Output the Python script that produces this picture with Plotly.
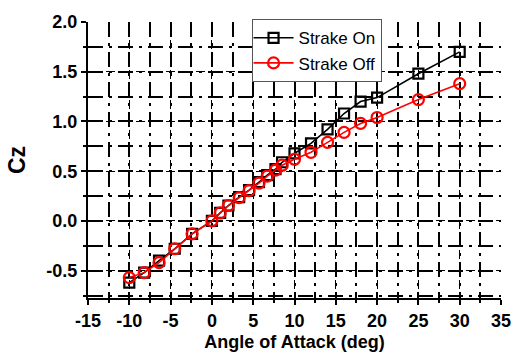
import plotly.graph_objects as go

# Angle of attack (deg)
alpha = [-10, -8.2, -6.4, -4.5, -2.4, 0, 1, 2, 3.3, 4.5, 5.7, 6.7, 7.7, 8.5,
         10, 12, 14, 16, 18, 20, 25, 30]
# Normal-force coefficient with the strake fitted / removed
cz_on = [-0.62, -0.52, -0.40, -0.28, -0.13, 0.0, 0.08, 0.155, 0.24, 0.31, 0.39,
         0.46, 0.52, 0.59, 0.68, 0.78, 0.92, 1.08, 1.20, 1.24, 1.48, 1.70]
cz_off = [-0.57, -0.52, -0.42, -0.28, -0.13, 0.0, 0.08, 0.155, 0.235, 0.305, 0.38,
          0.45, 0.51, 0.56, 0.62, 0.69, 0.79, 0.89, 0.98, 1.04, 1.22, 1.38]

series_names = ["Strake On", "Strake Off"]
series_colors = ["black", "red"]
series_symbols = ["square-open", "circle-open"]
series_sizes = [10, 11]

x_ticks = [-15, -10, -5, 0, 5, 10, 15, 20, 25, 30, 35]
y_ticks = [-0.5, 0.0, 0.5, 1.0, 1.5, 2.0]

fig = go.Figure()
for name, ys, col, sym, sz in zip(series_names, [cz_on, cz_off], series_colors,
                                  series_symbols, series_sizes):
    fig.add_trace(go.Scatter(
        x=alpha, y=ys, name=name, mode="lines+markers",
        line=dict(color=col, width=1.6),
        marker=dict(symbol=sym, size=sz, color=col, line=dict(width=2.2)),
    ))

tick_font = dict(family="Liberation Sans", size=18, color="black", weight="bold")
axis_common = dict(
    showline=True, linecolor="black", linewidth=2,
    ticks="outside", ticklen=5, tickwidth=2, tickcolor="black",
    tickfont=tick_font,
    showgrid=True, gridcolor="black", gridwidth=1, griddash="dot",
    zeroline=False,
)

fig.update_layout(
    xaxis=dict(
        **axis_common,
        range=[-15, 35], tickvals=x_ticks,
        ticktext=[str(v) if v >= 0 else "-" + str(-v) for v in x_ticks],
        minor=dict(dtick=2.5, tick0=-15, ticks="outside", ticklen=3, tickwidth=2,
                   tickcolor="black", showgrid=True, gridcolor="black",
                   gridwidth=1.5, griddash="longdashdot"),
        title=dict(text="Angle of Attack (deg)", standoff=6,
                   font=dict(family="Liberation Sans", size=18, color="black",
                             weight="bold")),
    ),
    yaxis=dict(
        **axis_common,
        range=[-0.775, 2.0], tickvals=y_ticks,
        ticktext=[f"{v:.1f}" if v >= 0 else "-" + f"{-v:.1f}" for v in y_ticks],
        minor=dict(dtick=0.25, tick0=0, ticks="outside", ticklen=3, tickwidth=2,
                   tickcolor="black", showgrid=True, gridcolor="black",
                   gridwidth=1.5, griddash="longdashdot"),
        title=dict(text="Cz", standoff=14,
                   font=dict(family="Liberation Sans", size=23, color="black",
                             weight="bold")),
    ),
    width=523, height=363,
    margin=dict(l=88, r=18, t=15, b=65),
    paper_bgcolor="white", plot_bgcolor="white",
    legend=dict(
        x=0.396, y=1.01, xanchor="left", yanchor="top",
        bgcolor="white", bordercolor="#555555", borderwidth=1,
        font=dict(family="Liberation Sans", size=17, color="black"),
        tracegroupgap=0, itemwidth=40, indentation=-4,
    ),
)

fig.write_html("out.html")
